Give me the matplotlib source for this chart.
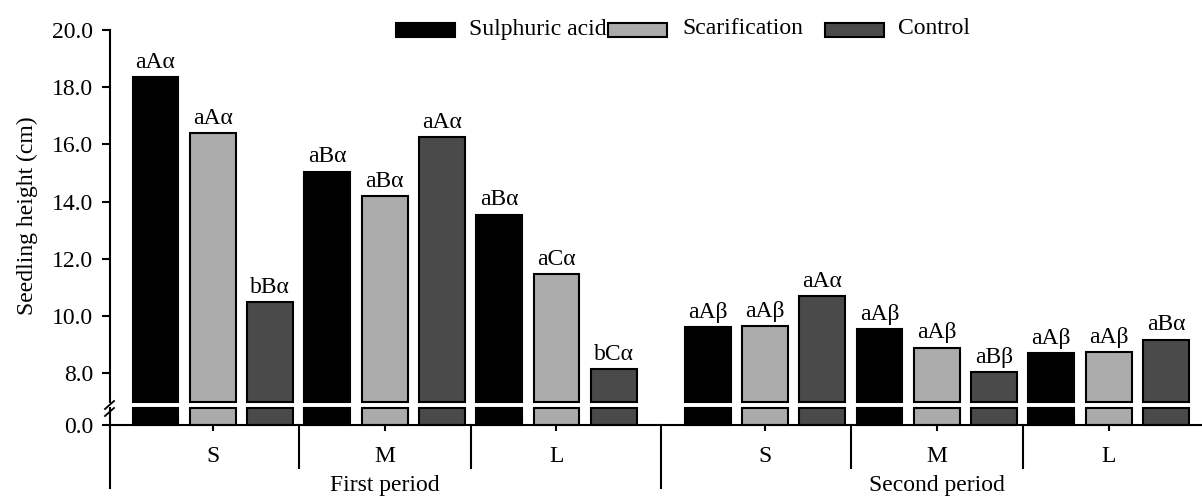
import numpy as np
import matplotlib
matplotlib.use("Agg")
import matplotlib.pyplot as plt
from matplotlib.patches import Rectangle
from matplotlib.transforms import blended_transform_factory

plt.rcParams['font.family'] = ['Liberation Serif', 'DejaVu Serif']

# Dados
periods = ["First period", "Second period"]
sizes = ["S", "M", "L"]
treatments = ["Sulphuric acid", "Scarification", "Control"]
colors = ["#000000", "#ababab", "#4a4a4a"]

# altura (cm) por periodo: linhas = S, M, L ; colunas = tratamentos
first_period = [[18.35, 16.40, 10.50],
                [15.05, 14.20, 16.25],
                [13.55, 11.47, 8.14]]
second_period = [[9.62, 9.65, 10.70],
                 [9.55, 8.90, 8.05],
                 [8.70, 8.75, 9.18]]

first_letters = [["aAα", "aAα", "bBα"],
                 ["aBα", "aBα", "aAα"],
                 ["aBα", "aCα", "bCα"]]
second_letters = [["aAβ", "aAβ", "aAα"],
                  ["aAβ", "aAβ", "aBβ"],
                  ["aAβ", "aAβ", "aBα"]]

values = np.array([first_period, second_period])
letters = [first_letters, second_letters]

# layout
W, H = 1202, 497
period_gap = 9.64
bar_w = 0.80
low_top = 0.6
up_bottom = 7.0
fs = 17

fig = plt.figure(figsize=(W / 100, H / 100), dpi=100)
left = 110 / W
ax_up = fig.add_axes([left, 1 - 402 / H, 1 - left, (402 - 30) / H])
ax_lo = fig.add_axes([left, 1 - 425 / H, 1 - left, 17 / H])

xmin, xmax = -0.794, 18.27
for ax in (ax_up, ax_lo):
    ax.set_xlim(xmin, xmax)
    ax.spines["top"].set_visible(False)
    ax.spines["right"].set_visible(False)
    ax.spines["left"].set_linewidth(1.5)
    ax.spines["bottom"].set_linewidth(1.5)
    ax.tick_params(axis="y", direction="out", length=6, width=1.5, labelsize=fs, pad=6)

ax_up.spines["bottom"].set_visible(False)
ax_up.set_ylim(up_bottom, 20.0)
ax_up.set_yticks(np.arange(8, 20.1, 2))
ax_up.set_yticklabels([f"{v:.1f}" for v in np.arange(8, 20.1, 2)])
ax_up.set_xticks([])
ax_up.set_ylabel("Seedling height (cm)", fontsize=fs, labelpad=10)

ax_lo.set_ylim(0, low_top)
ax_lo.set_yticks([0])
ax_lo.set_yticklabels(["0.0"])

group_centers = []
for p in range(2):
    for g in range(3):
        for k in range(3):
            x = p * period_gap + g * 3 + k
            v = values[p, g, k]
            ax_up.bar(x, v - up_bottom, bottom=up_bottom, width=bar_w, color=colors[k],
                      edgecolor="black", linewidth=1.5, clip_on=False)
            ax_lo.bar(x, min(v, low_top), width=bar_w, color=colors[k],
                      edgecolor="black", linewidth=1.5, clip_on=False)
            ax_up.annotate(letters[p][g][k], (x, v), xytext=(0, 3), textcoords="offset points",
                           ha="center", va="bottom", fontsize=fs)
        group_centers.append(p * period_gap + g * 3 + 1)

ax_lo.set_xticks(group_centers)
ax_lo.set_xticklabels([])
ax_lo.tick_params(axis="x", direction="out", length=4, width=1.5)

# rotulos e separadores abaixo do eixo
tr = blended_transform_factory(ax_lo.transData, fig.transFigure)
for i, c in enumerate(group_centers):
    ax_lo.text(c, 1 - 457 / H, sizes[i % 3], transform=tr, ha="center", va="center",
               fontsize=fs, clip_on=False)
for p in range(2):
    ax_lo.text(p * period_gap + 4, 1 - 486 / H, periods[p], transform=tr, ha="center",
               va="center", fontsize=fs, clip_on=False)
    for s in (2.5, 5.5):
        ax_lo.plot([p * period_gap + s] * 2, [1 - 425 / H, 1 - 468 / H], transform=tr,
                   color="black", lw=1.5, clip_on=False)
for s in (xmin, (8 + period_gap) / 2):
    ax_lo.plot([s, s], [1 - 425 / H, 1 - 488 / H], transform=tr, color="black",
               lw=1.5, clip_on=False)

# marca de quebra do eixo
for dy in (0, 7):
    fig.add_artist(plt.Line2D([(105) / W, (114) / W], [1 - (409 + dy) / H, 1 - (401 + dy) / H],
                              color="black", lw=1.3))

# legenda
patch_x = [396, 608, 825]
text_x = [469, 682, 898]
for k in range(3):
    fig.add_artist(Rectangle((patch_x[k] / W, 1 - 37 / H), 59 / W, 14 / H, facecolor=colors[k],
                             edgecolor="black", linewidth=1.5, transform=fig.transFigure))
    fig.text(text_x[k] / W, 1 - 29 / H, treatments[k], ha="left", va="center", fontsize=fs)

fig.savefig("out.png", dpi=100)
